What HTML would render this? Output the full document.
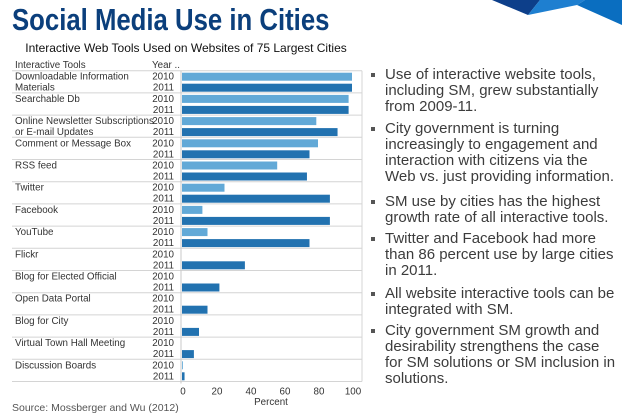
<!DOCTYPE html>
<html><head><meta charset="utf-8"><style>
body{margin:0;width:622px;height:420px;background:#fff;overflow:hidden;position:relative;font-family:"Liberation Sans",sans-serif}
#title{position:absolute;left:12px;top:2px;font-size:31px;font-weight:bold;color:#0b3f7c;white-space:nowrap;transform:scaleX(0.83);transform-origin:0 0}
.b{position:absolute;left:372px;width:243px;font-size:15px;line-height:16px;color:#3c3c3c}
.b::before{content:"";position:absolute;left:-1px;top:6px;width:4px;height:4px;background:#555}
.b span{display:block;padding-left:13px}
</style></head><body>
<svg style="position:absolute;left:0;top:0" width="622" height="40">
<polygon points="492,0 528,15 540,0" fill="#0d3f8a"/>
<polygon points="528,15 577,5 585,0 540,0" fill="#1e7fd0"/>
<polygon points="577,5 622,25 622,0 585,0" fill="#0a6ec0"/>
</svg>
<div id="title">Social Media Use in Cities</div>
<svg id="chart" style="position:absolute;left:0;top:0" width="370" height="420"></svg>
<div class="b" style="top:67px"><span>Use of interactive website tools, including SM, grew substantially from 2009-11.</span></div>
<div class="b" style="top:121px"><span>City government is turning increasingly to engagement and interaction with citizens via the Web vs. just providing information.</span></div>
<div class="b" style="top:194px"><span>SM use by cities has the highest growth rate of all interactive tools.</span></div>
<div class="b" style="top:231px"><span>Twitter and Facebook had more than 86 percent use by large cities in 2011.</span></div>
<div class="b" style="top:286px"><span>All website interactive tools can be integrated with SM.</span></div>
<div class="b" style="top:323px;width:248px"><span>City government SM growth and<br>desirability strengthens the case<br>for SM solutions or SM inclusion in<br>solutions.</span></div>
<script>
const categories=[["Downloadable Information","Materials"],["Searchable Db"],["Online Newsletter Subscriptions","or E-mail Updates"],["Comment or Message Box"],["RSS feed"],["Twitter"],["Facebook"],["YouTube"],["Flickr"],["Blog for Elected Official"],["Open Data Portal"],["Blog for City"],["Virtual Town Hall Meeting"],["Discussion Boards"]];
const values2010=[100,98,79,80,56,25,12,15,0,0,0,0,0,0.5];
const values2011=[100,98,91.5,75,73.5,87,87,75,37,22,15,10,7,1.5];
const ticks=[0,20,40,60,80,100];
const NS="http://www.w3.org/2000/svg";
const svg=document.getElementById('chart');
const X0=182,X1=352,TOP=70.7,GH=22.2;
const x=v=>X0+(X1-X0)*v/100;
function mk(t,a,txt){const e=document.createElementNS(NS,t);for(const k in a)e.setAttribute(k,a[k]);if(txt!==undefined)e.textContent=txt;svg.appendChild(e);return e;}
let e;
e=mk('text',{x:186,y:52,'font-size':12,'text-anchor':'middle',fill:'#111'},'Interactive Web Tools Used on Websites of 75 Largest Cities');


e=mk('text',{x:15,y:68,'font-size':9.8,fill:'#333'},'Interactive Tools');


e=mk('text',{x:152,y:68,'font-size':9.8,fill:'#333'},'Year ..');


categories.forEach((c,i)=>{
  const y0=TOP+i*GH;
  e=mk('line',{x1:12,x2:362,y1:y0,y2:y0,stroke:'#d4d4d4','stroke-width':1});
  
  
  c.forEach((ln,j)=>{
    e=mk('text',{x:15,y:y0+9+j*11,'font-size':9.8,fill:'#333'},ln);
    
    
  });
  ['2010','2011'].forEach((yr,j)=>{
    e=mk('text',{x:174,y:y0+9+j*11,'font-size':9.8,fill:'#333','text-anchor':'end'},yr);
    
    
  });
  const v1=values2010[i],v2=values2011[i];
  if(v1>0){e=mk('rect',{x:x(0),y:y0+2,width:x(v1)-x(0),height:8,fill:'#62a9d7'});
  
  }
  e=mk('rect',{x:x(0),y:y0+13,width:x(v2)-x(0),height:8,fill:'#2272b0'});
  
  
});
const yb=TOP+categories.length*GH;
e=mk('line',{x1:12,x2:362,y1:yb,y2:yb,stroke:'#d4d4d4','stroke-width':1});


e=mk('line',{x1:181,x2:181,y1:TOP,y2:yb+2,stroke:'#c8c8c8','stroke-width':1});


e=mk('line',{x1:362,x2:362,y1:TOP,y2:yb,stroke:'#d4d4d4','stroke-width':1});


ticks.forEach(t=>{
  e=mk('text',{x:x(t)+1,y:yb+13,'font-size':9.8,fill:'#333','text-anchor':'middle'},String(t));
  
  
});
e=mk('text',{x:271,y:405,'font-size':9.8,fill:'#333','text-anchor':'middle'},'Percent');


e=mk('text',{x:12,y:411,'font-size':10.5,fill:'#555'},'Source: Mossberger and Wu (2012)');


</script>
</body></html>
